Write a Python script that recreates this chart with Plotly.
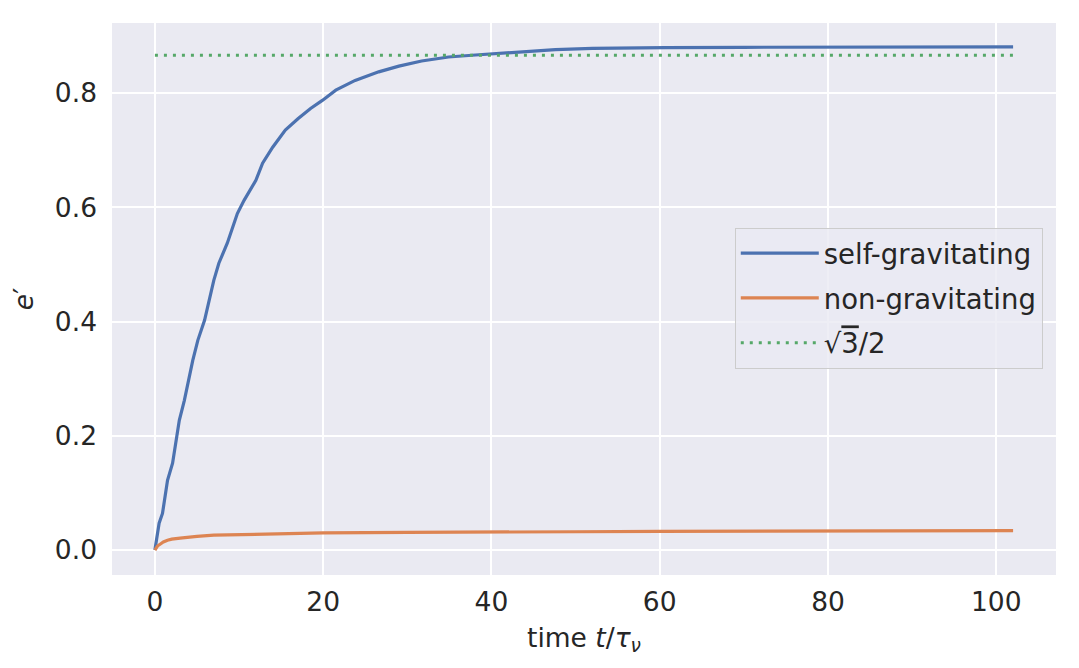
import plotly.graph_objects as go

# ---- data ----
t_self = [0, 0.5, 0.9, 1.5, 2.1, 2.9, 3.5, 4.5, 5.1, 5.9, 7.0, 7.6, 8.6, 9.8, 10.6,
          12.0, 12.8, 14.0, 15.5, 17.0, 18.5, 19.9, 21.5, 23.8, 26.6, 29.0, 31.7,
          34.9, 38.1, 41.2, 44.0, 47.6, 52.0, 56.0, 60.7, 70.0, 80.0, 90.0, 102.0]
e_self = [0, 0.047, 0.064, 0.122, 0.152, 0.227, 0.262, 0.332, 0.367, 0.402, 0.472,
          0.502, 0.537, 0.589, 0.612, 0.647, 0.677, 0.705, 0.735, 0.755, 0.773, 0.787,
          0.805, 0.822, 0.837, 0.847, 0.856, 0.863, 0.8665, 0.870, 0.873, 0.876,
          0.878, 0.879, 0.8795, 0.880, 0.8805, 0.8806, 0.8806]

t_non = [0, 0.3, 0.7, 1, 1.5, 2, 3, 4, 5, 7, 10, 15, 20, 30, 40, 50, 60, 70, 80, 90, 102]
e_non = [0, 0.007, 0.011, 0.014, 0.017, 0.019, 0.021, 0.023, 0.024, 0.026, 0.027,
         0.029, 0.030, 0.031, 0.032, 0.032, 0.0325, 0.033, 0.033, 0.0335, 0.034]

t_ref = [0, 102]
e_ref = [0.8660254, 0.8660254]

x_ticks = [0, 20, 40, 60, 80, 100]
y_ticks = [0.0, 0.2, 0.4, 0.6, 0.8]

BLUE, ORANGE, GREEN = "#4C72B0", "#DD8452", "#55A868"
FONT = "DejaVu Sans"
TXT = "#262626"
TICK_SIZE = 26.5
LEG_SIZE = 27.5

fig = go.Figure()
fig.add_trace(go.Scatter(x=t_self, y=e_self, mode="lines", name="self-gravitating",
                         legendgroup="a", line=dict(color=BLUE, width=3.2)))
fig.add_trace(go.Scatter(x=t_non, y=e_non, mode="lines", name="non-gravitating",
                         legendgroup="b", line=dict(color=ORANGE, width=3.2)))
fig.add_trace(go.Scatter(x=t_ref, y=e_ref, mode="lines",
                         name="√<span style=\"text-decoration:overline\">3</span>/2",
                         legendgroup="c", line=dict(color=GREEN, width=3, dash="3px,6px")))

fig.update_layout(
    width=1071, height=660,
    margin=dict(l=102, r=23, t=15, b=93),
    paper_bgcolor="white", plot_bgcolor="#EAEAF2",
    font=dict(family=FONT, size=TICK_SIZE, color=TXT),
    showlegend=True,
    legend=dict(x=0.986, y=0.629, xanchor="right", yanchor="top",
                bgcolor="rgba(234,234,242,0.8)", bordercolor="#CCCCCC", borderwidth=1,
                font=dict(family=FONT, size=LEG_SIZE, color=TXT), tracegroupgap=6,
                traceorder="grouped", itemwidth=78),
    xaxis=dict(range=[-5.1, 107.1], tickvals=x_ticks, showgrid=True, gridcolor="white",
               gridwidth=1.8, zeroline=False, showline=False, ticks="",
               ticklabelstandoff=8,
               title=dict(text="time <i>t</i>/<i>τ</i><sub><i>ν</i></sub>", standoff=12,
                          font=dict(family=FONT, size=TICK_SIZE, color=TXT)),
               tickfont=dict(family=FONT, size=TICK_SIZE, color=TXT)),
    yaxis=dict(range=[-0.0437, 0.9225], tickvals=y_ticks, tickformat=".1f", showgrid=True,
               gridcolor="white", gridwidth=1.8, zeroline=False, showline=False, ticks="",
               ticklabelstandoff=14,
               title=dict(text="<i>e</i>′", standoff=16,
                          font=dict(family=FONT, size=TICK_SIZE, color=TXT)),
               tickfont=dict(family=FONT, size=TICK_SIZE, color=TXT)),
)

fig.write_html("out.html")
